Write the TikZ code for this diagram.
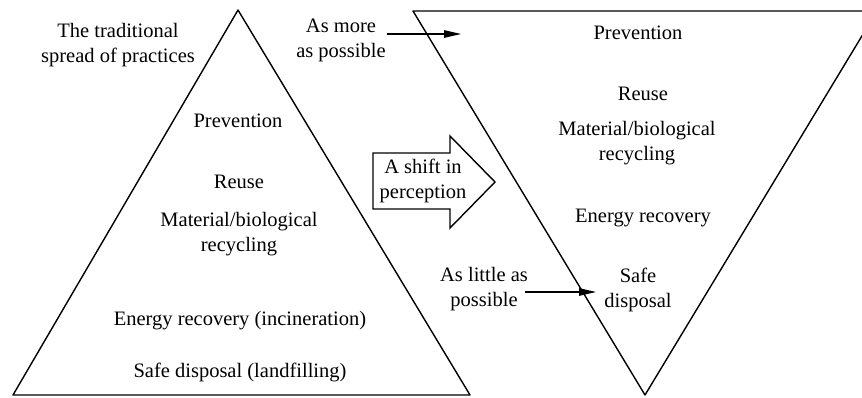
\documentclass[tikz,border=0pt]{standalone}
\usepackage{fontspec}
\setmainfont{Liberation Serif}
\usetikzlibrary{arrows.meta}
\begin{document}
\begin{tikzpicture}[x=1pt,y=-1pt,
  edge/.style={line width=1.4pt, line join=round},
  lbl/.style={font=\fontsize{20.5}{25}\selectfont, inner sep=0pt, align=center},
  ptr/.style={line width=2.6pt, -{Stealth[length=18pt,width=7pt,inset=0pt]}}]
\useasboundingbox (0,0) rectangle (862,397);
\clip (0,0) rectangle (862,397);
% left pyramid
\coordinate (LA) at (238,10);
\coordinate (LB) at (13,395);
\coordinate (LC) at (470,395);
\draw[edge] (LA) -- (LB) -- (LC) -- cycle;
% right inverted pyramid
\coordinate (RA) at (413,11);
\coordinate (RB) at (877,11);
\coordinate (RC) at (645,395);
\draw[edge] (RA) -- (RB) -- (RC) -- cycle;
% block arrow
\draw[edge, line join=miter] (373,153) -- (450,153) -- (450,136) -- (495,182) -- (450,228) -- (450,209) -- (373,209) -- cycle;
\node[lbl] (shift) at (423,181) {A shift in\\perception};
% left texts
\node[lbl] (trad) at (118,44.75) {The traditional\\spread of practices};
\node[lbl, anchor=base] (lprev) at (238,127) {Prevention};
\node[lbl, anchor=base] (lreuse) at (239,188) {Reuse};
\node[lbl] (lmat) at (239,234) {Material/biological\\recycling};
\node[lbl, anchor=base] (lener) at (240,325) {Energy recovery (incineration)};
\node[lbl, anchor=base] (lsafe) at (240,377) {Safe disposal (landfilling)};
% right texts
\node[lbl] (more) at (341,40.75) {As more\\as possible};
\node[lbl, anchor=base] (rprev) at (638,39) {Prevention};
\node[lbl, anchor=base] (rreuse) at (643,100) {Reuse};
\node[lbl] (rmat) at (637,142.75) {Material/biological\\recycling};
\node[lbl, anchor=base] (rener) at (643,222) {Energy recovery};
\node[lbl] (rsafe) at (638,290) {Safe\\disposal};
\node[lbl] (little) at (484,289.5) {As little as\\possible};
% pointers
\coordinate (m1) at (387,34);
\coordinate (m2) at (462,34);
\draw[ptr] (m1) -- (m2);
\coordinate (l1) at (525,292);
\coordinate (l2) at (597,292);
\draw[ptr] (l1) -- (l2);
\end{tikzpicture}
\end{document}
